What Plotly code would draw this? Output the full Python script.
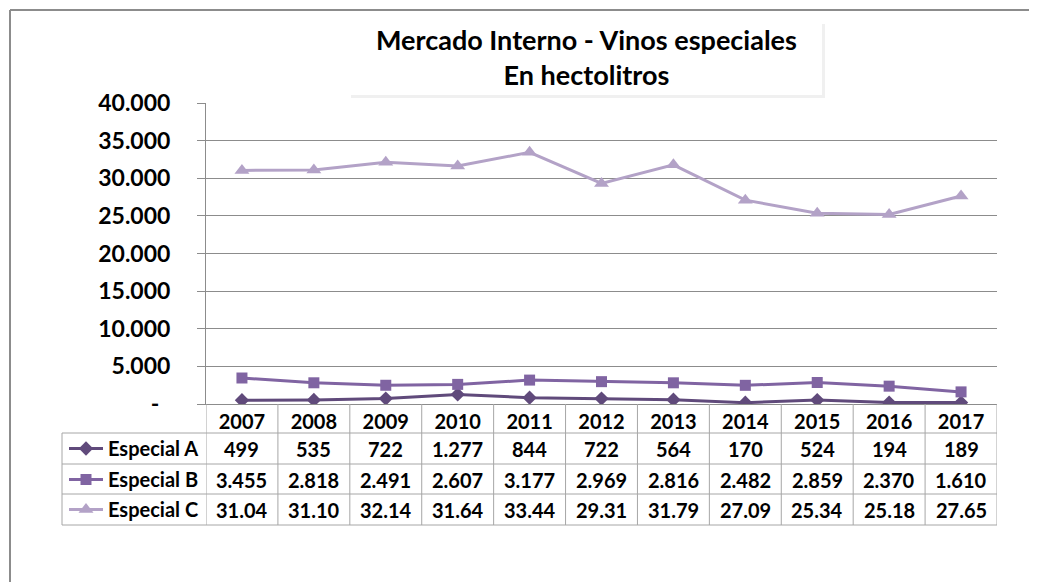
import plotly.graph_objects as go

W, H = 1037, 582
PAD = 8  # margen del body de la página html

years = ['2007', '2008', '2009', '2010', '2011', '2012', '2013', '2014', '2015', '2016', '2017']
series_names = ['Especial A', 'Especial B', 'Especial C']
especial_a = [499, 535, 722, 1277, 844, 722, 564, 170, 524, 194, 189]
especial_b = [3455, 2818, 2491, 2607, 3177, 2969, 2816, 2482, 2859, 2370, 1610]
especial_c = [31040, 31100, 32140, 31640, 33440, 29310, 31790, 27090, 25340, 25180, 27650]
y_ticks = [0, 5000, 10000, 15000, 20000, 25000, 30000, 35000, 40000]

colors = {'Especial A': '#604A7B', 'Especial B': '#8064A2', 'Especial C': '#B3A2C7'}
symbols = {'Especial A': 'diamond', 'Especial B': 'square', 'Especial C': 'triangle-up'}
FONT = 'Lato'

FW, FH = W - PAD, H - PAD


def px_x(p):
    return (p - PAD) / FW


def px_y(p):
    return 1 - (p - PAD) / FH


def miles(v):
    # formato con punto como separador de miles
    return f"{v:,}".replace(',', '.')


def tick_text(v):
    return '-\u00a0\u00a0' if v == 0 else miles(v)


values = {'Especial A': especial_a, 'Especial B': especial_b, 'Especial C': especial_c}
# la celda de Especial C queda recortada en la tabla original (5 caracteres)
cell_text = {
    'Especial A': [miles(v) for v in especial_a],
    'Especial B': [miles(v) for v in especial_b],
    'Especial C': [miles(v)[:5] for v in especial_c],
}

fig = go.Figure()
legend_ids = ['legend2', 'legend3', 'legend4']
for name, leg in zip(series_names, legend_ids):
    fig.add_trace(go.Scatter(
        x=years, y=values[name], name=name, mode='lines+markers',
        line=dict(color=colors[name], width=3),
        marker=dict(symbol=symbols[name], size=11 if name != 'Especial C' else 13, color=colors[name]),
        legend=leg,
    ))

# tabla de datos
row_top = [433, 464, 494]
row_h = 31
shapes = []
line_col = '#A6A6A6'
for yy in row_top + [525]:
    shapes.append(dict(type='line', xref='paper', yref='paper', x0=px_x(62), x1=px_x(997),
                       y0=px_y(yy), y1=px_y(yy), line=dict(color=line_col, width=1)))
shapes.append(dict(type='line', xref='paper', yref='paper', x0=px_x(62), x1=px_x(62),
                   y0=px_y(433), y1=px_y(525), line=dict(color=line_col, width=1)))
for i in range(len(years) + 1):
    shapes.append(dict(type='line', xref='x', yref='paper', x0=i - 0.5, x1=i - 0.5,
                       y0=px_y(404), y1=px_y(525), line=dict(color=line_col, width=1)))

# marco exterior (arriba e izquierda) y caja del título
shapes.append(dict(type='line', xref='paper', yref='paper', x0=px_x(10), x1=1,
                   y0=px_y(10), y1=px_y(10), line=dict(color='#8C8C8C', width=2)))
shapes.append(dict(type='line', xref='paper', yref='paper', x0=px_x(10), x1=px_x(10),
                   y0=px_y(10), y1=0, line=dict(color='#8C8C8C', width=2)))
shapes.append(dict(type='rect', xref='paper', yref='paper', x0=px_x(351), x1=px_x(825),
                   y0=px_y(24), y1=px_y(98), fillcolor='rgba(0,0,0,0.06)', line=dict(width=0)))
shapes.append(dict(type='rect', xref='paper', yref='paper', x0=px_x(349), x1=px_x(822),
                   y0=px_y(22), y1=px_y(95), fillcolor='white', line=dict(width=0)))

annotations = []
for name, top in zip(series_names, row_top):
    for i, txt in enumerate(cell_text[name]):
        annotations.append(dict(x=i, xref='x', y=px_y(top + row_h / 2), yref='paper',
                                text=txt, showarrow=False, yanchor='middle',
                                font=dict(family=FONT, size=20, color='black', weight='bold')))

annotations.append(dict(x=px_x(586), y=px_y(57), xref='paper', yref='paper', showarrow=False,
                        text='Mercado Interno - Vinos especiales<br>En hectolitros',
                        yanchor='middle',
                        font=dict(family=FONT, size=27, color='black', weight='bold')))

legend_style = dict(xanchor='left', yanchor='middle', bgcolor='rgba(0,0,0,0)', borderwidth=0,
                    itemwidth=34,
                    font=dict(family=FONT, size=20, color='black', weight='bold'))

fig.update_layout(
    width=FW, height=FH, autosize=False,
    margin=dict(l=0, r=0, t=0, b=0, autoexpand=False),
    paper_bgcolor='white', plot_bgcolor='white',
    shapes=shapes, annotations=annotations,
    showlegend=True,
    legend2=dict(x=px_x(64), y=px_y(row_top[0] + row_h / 2), **legend_style),
    legend3=dict(x=px_x(64), y=px_y(row_top[1] + row_h / 2), **legend_style),
    legend4=dict(x=px_x(64), y=px_y(row_top[2] + row_h / 2), **legend_style),
    xaxis=dict(domain=[px_x(206), px_x(997)], type='category', range=[-0.5, len(years) - 0.5],
               showgrid=False, showline=True, linecolor='#8C8C8C', linewidth=1, ticks='',
               automargin=False,
               tickfont=dict(family=FONT, size=20, color='black', weight='bold')),
    yaxis=dict(domain=[px_y(404), px_y(103)], range=[0, 40000], tickvals=y_ticks,
               ticktext=[tick_text(v) for v in y_ticks], showgrid=True, gridcolor='#8C8C8C',
               gridwidth=1, showline=True, linecolor='#8C8C8C', linewidth=1, zeroline=False,
               ticks='outside', ticklen=8, tickcolor='#8C8C8C', ticklabelstandoff=22,
               automargin=False,
               tickfont=dict(family=FONT, size=23, color='black', weight='bold')),
)

fig.write_html("out.html")
